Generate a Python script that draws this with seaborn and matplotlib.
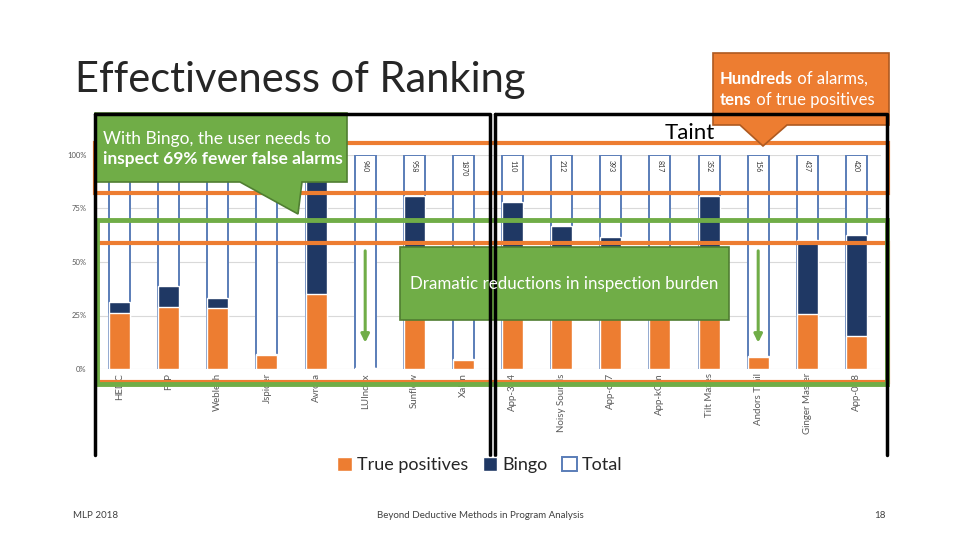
import matplotlib
matplotlib.use("Agg")
import matplotlib.pyplot as plt
from matplotlib.patches import Patch, Polygon, Rectangle
import pandas as pd
import seaborn as sns

benchmarks = ["HEDC", "FTP", "Weblech", "Jspider", "Avrora", "LUIndex", "Sunflow", "Xalan",
              "App-324", "Noisy Sounds", "App-ca7", "App-kQm", "Tilt Mazes", "Andors Trail",
              "Ginger Master", "App-018"]
true_pos = [26.4, 29.2, 28.5, 6.4, 35.1, 0.3, 38.0, 4.4,
            30.0, 30.0, 33.0, 24.0, 33.0, 5.6, 25.7, 15.2]
bingo = [31.1, 39.0, 33.4, 7.0, 97.0, 0.6, 80.9, 4.8,
         78.2, 66.9, 61.9, 25.0, 80.9, 6.2, 60.3, 62.7]
total = [100] * 16
# alarm counts printed at the top of each bar (first five sit under the callout)
alarm_counts = ["152", "522", "30", "257", "978", "940", "958", "1870",
                "110", "212", "393", "817", "352", "156", "437", "420"]

ORANGE = "#ED7D31"
NAVY = "#1F3864"
BLUE_EDGE = "#5A7DB8"
GREEN = "#70AD47"
GREEN_DARK = "#507E32"

df = pd.DataFrame({"bench": benchmarks, "tp": [v / 100 for v in true_pos],
                   "bingo": [v / 100 for v in bingo], "total": [v / 100 for v in total]})

sns.set_theme(style="white")
plt.rcParams["font.family"] = ["Lato", "DejaVu Sans"]

fig = plt.figure(figsize=(9.6, 5.4), dpi=100)
ax = fig.add_axes([95 / 960, 1 - 369 / 540, 786 / 960, 214 / 540])

sns.barplot(data=df, x="bench", y="total", order=benchmarks, color="white",
            edgecolor=BLUE_EDGE, linewidth=1.4, width=0.43, errorbar=None, ax=ax)
sns.barplot(data=df, x="bench", y="bingo", order=benchmarks, color=NAVY,
            saturation=1, width=0.43, errorbar=None, ax=ax)
sns.barplot(data=df, x="bench", y="tp", order=benchmarks, color=ORANGE,
            saturation=1, width=0.43, errorbar=None, ax=ax)

# the callout hides the first five labels, so only the visible ones are drawn
for i, c in enumerate(alarm_counts):
    if i >= 5:
        ax.text(i, 0.975, c, rotation=-90, ha="center", va="top", fontsize=5, color="#333333")

ax.set_xlim(-0.5, 15.5)
ax.set_ylim(0, 1.0)
ax.set_yticks([0, 0.25, 0.5, 0.75, 1.0])
ax.set_yticklabels(["0%", "25%", "50%", "75%", "100%"], fontsize=5.5, color="#595959")
ax.yaxis.grid(True, color="#D9D9D9", linewidth=0.8)
ax.set_axisbelow(True)
ax.set_xlabel("")
ax.set_ylabel("")
ax.tick_params(axis="x", labelrotation=90, labelsize=7, labelcolor="#595959", pad=3, length=0)
ax.tick_params(axis="y", length=0, pad=6)
for s in ax.spines.values():
    s.set_visible(False)

# green arrows inside the tiny bars
for i in (5, 13):
    ax.annotate("", xy=(i, 0.11), xytext=(i, 0.565),
                arrowprops=dict(arrowstyle="-|>", color=GREEN, lw=2.2, mutation_scale=12))

# overlay in pixel coordinates for slide decorations
ov = fig.add_axes([0, 0, 1, 1], zorder=5)
ov.set_xlim(0, 960)
ov.set_ylim(540, 0)
ov.axis("off")
ov.patch.set_alpha(0)

# black frames
ov.plot([95, 490, 490], [114, 114, 455], color="black", lw=2.5)
ov.plot([95, 95], [114, 455], color="black", lw=2.5)
ov.plot([495, 887, 887], [114, 114, 455], color="black", lw=2.5)
ov.plot([495, 495], [114, 455], color="black", lw=2.5)

# highlight rectangles
ov.add_patch(Rectangle((95, 143), 793, 50, fill=False, edgecolor=ORANGE, lw=3))
ov.add_patch(Rectangle((97, 243), 791, 139, fill=False, edgecolor=ORANGE, lw=3))
ov.add_patch(Rectangle((97, 220), 790, 164, fill=False, edgecolor=GREEN, lw=3.5))

ov.text(690, 133, "Taint", fontsize=16, ha="center", va="center", color="black")

# callouts
ov.add_patch(Polygon([(95, 113), (347, 113), (347, 182), (302, 182), (298, 214),
                      (240, 182), (95, 182)], closed=True, facecolor=GREEN,
                     edgecolor=GREEN_DARK, lw=1.2))
ov.text(103, 139, "With Bingo, the user needs to", fontsize=12.5, color="white", va="center")
ov.text(103, 159, "inspect 69% fewer false alarms", fontsize=12.5, color="white",
        va="center", fontweight="bold")

ov.add_patch(Polygon([(713, 53), (889, 53), (889, 125), (787, 125), (763, 146),
                      (740, 125), (713, 125)], closed=True, facecolor=ORANGE,
                     edgecolor="#AE5A21", lw=1.2))


def runs(x, y, parts):
    fig.canvas.draw()
    r = fig.canvas.get_renderer()
    for txt, bold in parts:
        t = ov.text(x, y, txt, fontsize=12, color="white", va="center",
                    fontweight="bold" if bold else "normal")
        bb = t.get_window_extent(renderer=r)
        x += bb.width * 960 / fig.bbox.width


runs(720, 79, [("Hundreds", True), (" of alarms,", False)])
runs(720, 100, [("tens", True), (" of true positives", False)])

ov.add_patch(Rectangle((400, 247), 329, 73, facecolor=GREEN, edgecolor=GREEN_DARK, lw=1.2))
ov.text(564, 284, "Dramatic reductions in inspection burden", fontsize=12.2,
        color="white", ha="center", va="center")

ov.text(75, 80, "Effectiveness of Ranking", fontsize=30, color="#262626", va="center")

ov.text(73, 515, "MLP 2018", fontsize=7, color="#404040", va="center")
ov.text(480, 515, "Beyond Deductive Methods in Program Analysis", fontsize=7,
        color="#404040", va="center", ha="center")
ov.text(886, 515, "18", fontsize=7, color="#404040", va="center", ha="right")

handles = [Patch(facecolor=ORANGE, label="True positives"),
           Patch(facecolor=NAVY, label="Bingo"),
           Patch(facecolor="white", edgecolor=BLUE_EDGE, lw=1.4, label="Total")]
fig.legend(handles=handles, loc="center", bbox_to_anchor=(0.5, 1 - 465 / 540), ncol=3,
           frameon=False, fontsize=13, handlelength=0.8, handleheight=0.8,
           handletextpad=0.3, columnspacing=0.8)

fig.savefig("out.png", dpi=100)
